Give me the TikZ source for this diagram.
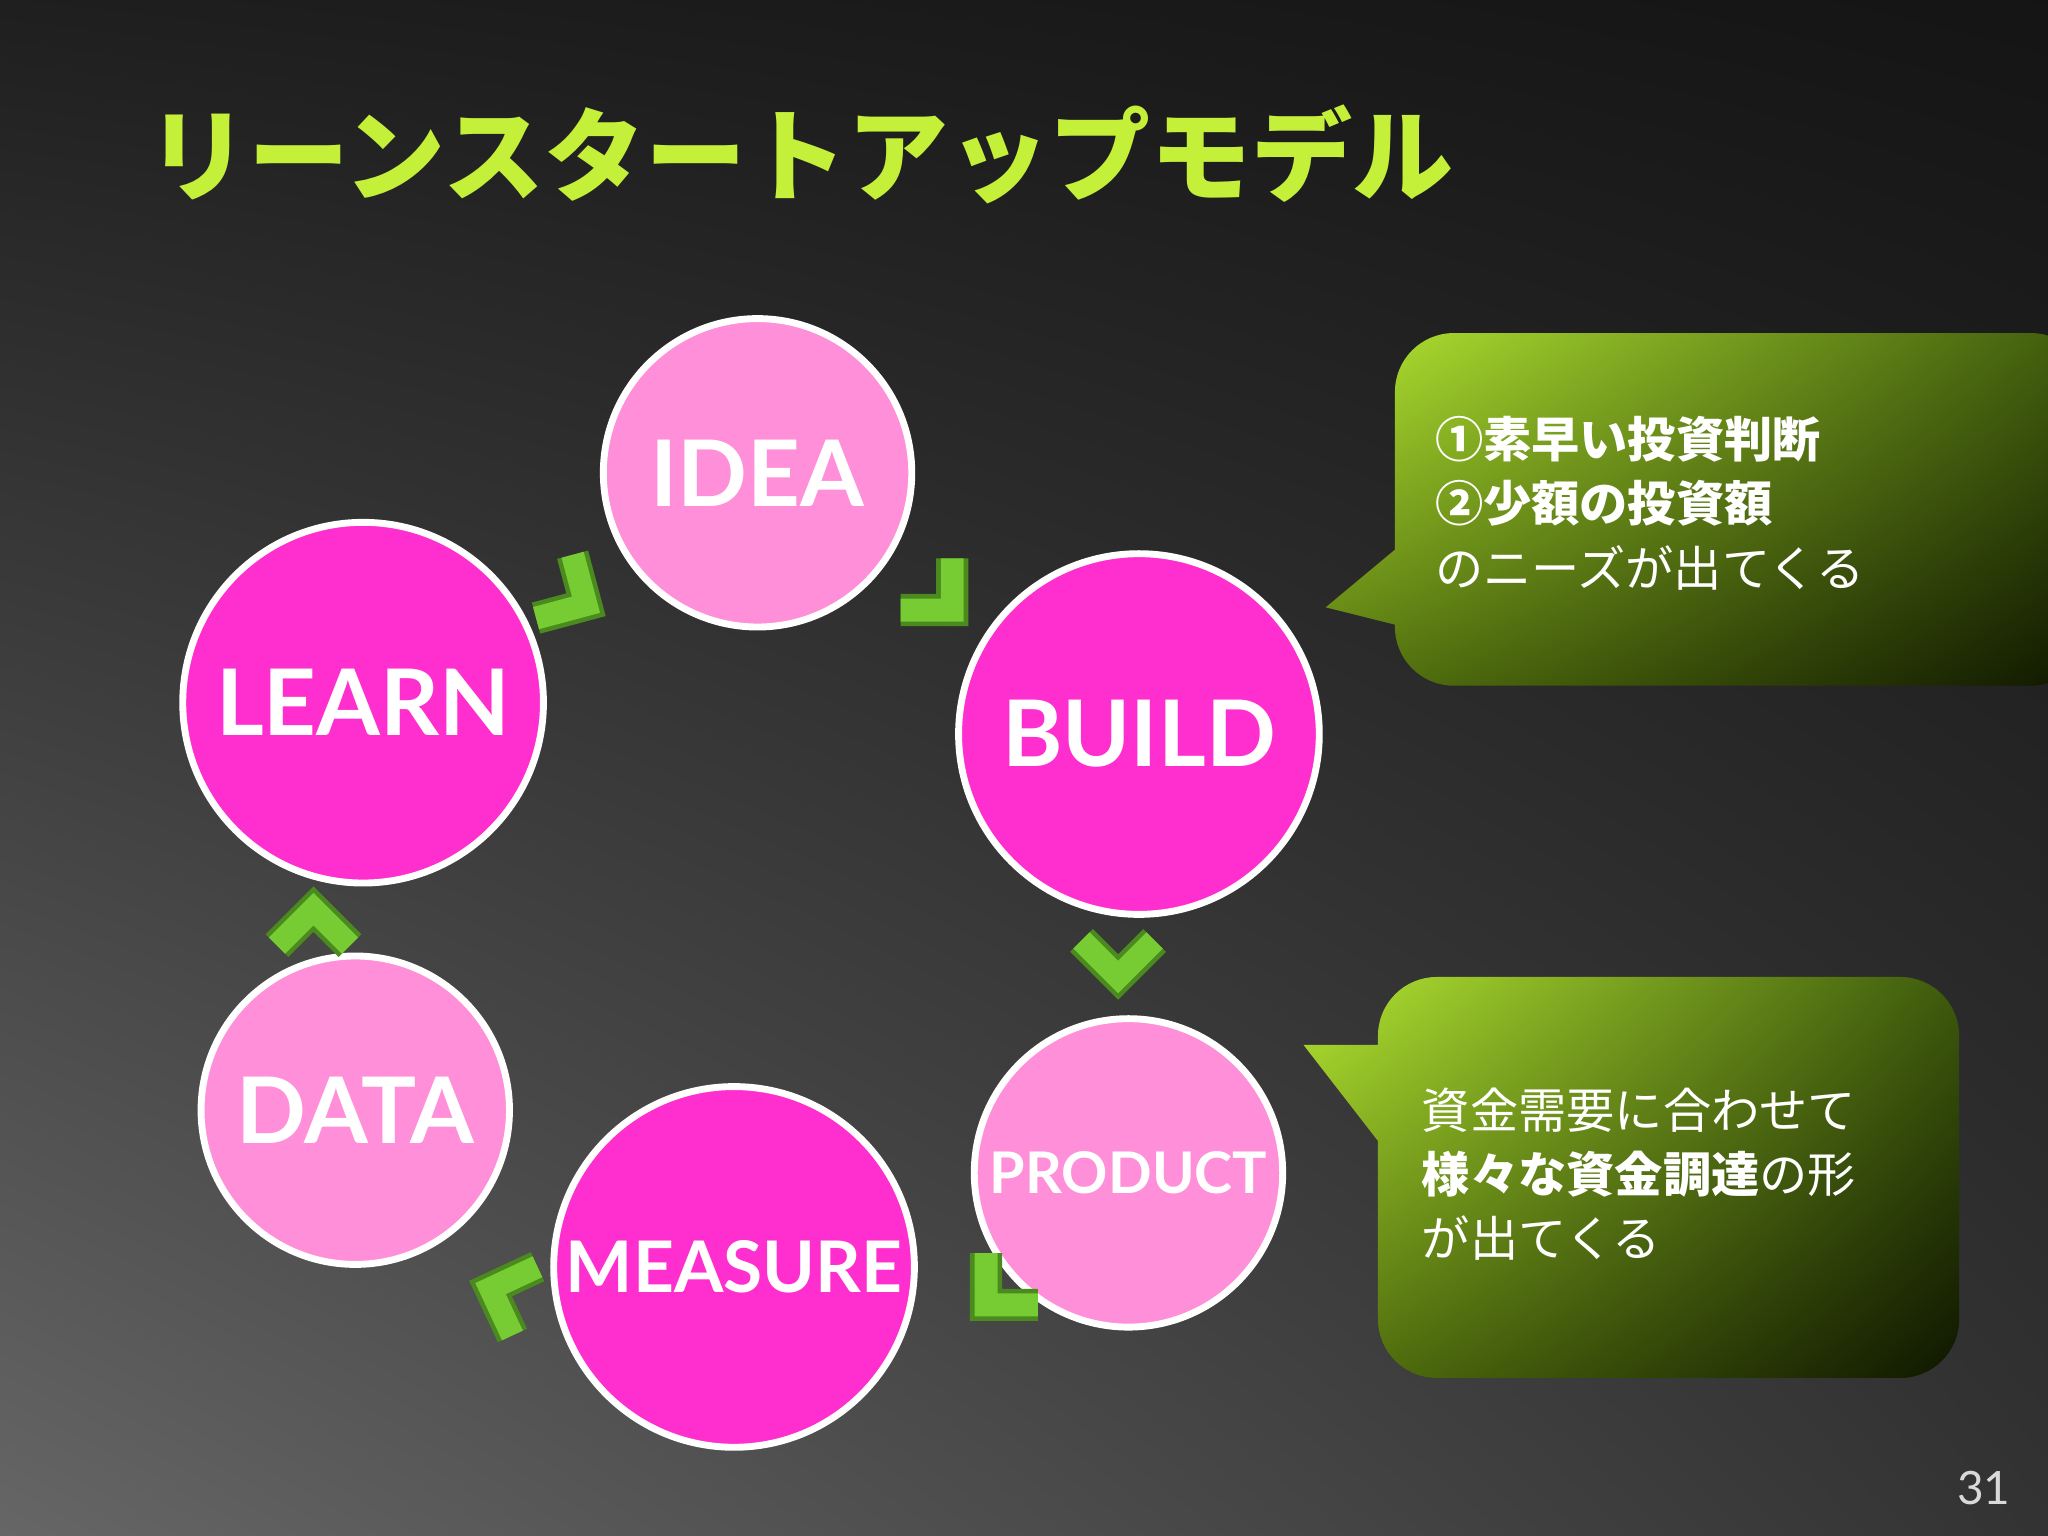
\documentclass[tikz,border=0pt]{standalone}
\usepackage{fontspec}
\setmainfont{Lato}
\newfontfamily\jp{Noto Sans CJK JP}
\usetikzlibrary{shapes.geometric,shadings}
\definecolor{lpink}{HTML}{FF8FD8}
\definecolor{mpink}{HTML}{FF2ECF}
\definecolor{lime}{HTML}{C4F03A}
\definecolor{chev}{HTML}{77CC33}
\definecolor{chevd}{HTML}{4A8A1E}
\definecolor{cul}{HTML}{B4E632}
\definecolor{cur}{HTML}{3E5A0C}
\definecolor{cll}{HTML}{56760F}
\definecolor{clr}{HTML}{0F1600}
\tikzset{
 circ/.style={circle,draw=white,line width=1.5pt,text=white,font=\bfseries,inner sep=0pt},
 lightc/.style={circ,fill=lpink,minimum size=2.36cm},
 darkc/.style={circ,fill=mpink,minimum size=2.76cm},
 chevron/.pic={\draw[chevd,line width=7pt,line join=miter,miter limit=10] (-18,28)--(10,0)--(-18,-28);
               \draw[chev,line width=5pt,line join=miter,miter limit=10] (-18,28)--(10,0)--(-18,-28);},
 callout/.style={upper left=cul,upper right=cur,lower left=cll,lower right=clr},
 ctext/.style={text=white,font=\jp\fontsize{10.5}{14}\selectfont,align=left,anchor=north west,inner sep=0pt}
}
\begin{document}
\begin{tikzpicture}[x=0.01cm,y=0.01cm]
\useasboundingbox (0,0) rectangle (1568,-1176);
\shade[upper left=black!88,upper right=black!92,lower left=black!60,lower right=black!80] (0,0) rectangle (1568,-1176);
\node[anchor=base west,inner sep=0pt,text=lime,font=\jp\bfseries\fontsize{22}{22}\selectfont] (title) at (112,-148) {リーンスタートアップモデル};
% circles
\node[lightc,font=\bfseries\fontsize{20}{20}\selectfont] (idea) at (580,-362) {IDEA};
\node[darkc,font=\bfseries\fontsize{20}{20}\selectfont] (build) at (872,-562) {BUILD};
\node[lightc,font=\bfseries\fontsize{12.5}{13}\selectfont] (product) at (864,-898) {PRODUCT};
\node[darkc,font=\bfseries\fontsize{15.5}{16}\selectfont] (measure) at (562,-970) {MEASURE};
\node[lightc,font=\bfseries\fontsize{20}{20}\selectfont] (data) at (272,-850) {DATA};
\node[darkc,font=\bfseries\fontsize{20}{20}\selectfont] (learn) at (278,-538) {LEARN};
% chevrons
\pic[rotate=-30] at (440,-458) {chevron};
\pic[rotate=-45] at (722,-460) {chevron};
\pic[rotate=-90] at (856,-738) {chevron};
\pic[rotate=225] at (762,-992) {chevron};
\pic[rotate=160] at (385,-990) {chevron};
\pic[rotate=90] at (240,-706) {chevron};
% callouts
\shade[callout]
  [rounded corners=0.45cm] (1068,-255) rectangle (1600,-525)
  [sharp corners] (1075,-415) -- (1015,-465) -- (1075,-480) -- cycle;
\shade[callout]
  [rounded corners=0.45cm] (1055,-748) rectangle (1500,-1055)
  [sharp corners] (1060,-800) -- (998,-800) -- (1060,-880) -- cycle;
\node[ctext] (t1) at (1098,-318) {{\bfseries ①素早い投資判断}\\{\bfseries ②少額の投資額}\\のニーズが出てくる};
\node[ctext] (t2) at (1088,-832) {資金需要に合わせて\\{\bfseries 様々な資金調達}の形\\が出てくる};
\node[text=white!85!black,font=\fontsize{10}{10}\selectfont,anchor=base east,inner sep=0pt] (pg) at (1540,-1152) {31};
\end{tikzpicture}
\end{document}
